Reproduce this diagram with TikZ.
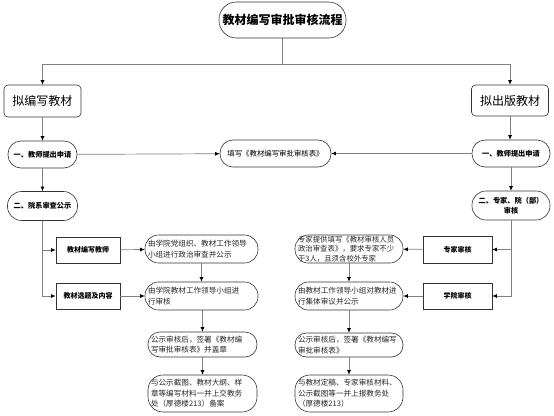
\documentclass[tikz,border=0pt]{standalone}
\usepackage{fontspec}
\setmainfont{Noto Sans CJK SC}
\usetikzlibrary{arrows.meta}
\begin{document}
\begin{tikzpicture}[x=1pt,y=-1pt,
 bx/.style={draw=black!80, line width=0.6pt, inner sep=1pt, align=center},
 stad/.style={bx, rounded corners=#1},
 rbox/.style={bx, rounded corners=4pt, font=\fontsize{12}{14}\selectfont},
 sq/.style={bx, font=\bfseries\fontsize{7}{9}\selectfont},
 hd/.style={bx, rounded corners=#1, font=\bfseries\fontsize{7.2}{10}\selectfont},
 stp/.style={bx, rounded corners=#1, align=left, inner xsep=3pt, text=black!85, font=\fontsize{7.6}{10.5}\selectfont},
 ln/.style={draw=black!50, line width=0.7pt},
 ar/.style={ln, -{Latex[length=4.5pt,width=4pt,color=black]}}
]
\useasboundingbox (0,0) rectangle (554,415);

% title
\node[stad=17.5pt, minimum width=127pt, minimum height=36pt, font=\bfseries\fontsize{12}{14}\selectfont] (title) at (282.5,20) {教材编写审批审核流程};

% top boxes
\node[rbox, minimum width=77pt, minimum height=32pt] (L0) at (42.5,101) {拟编写教材};
\node[rbox, minimum width=77pt, minimum height=31pt] (R0) at (510,100.5) {拟出版教材};

% step one
\node[hd=13pt, minimum width=69pt, minimum height=27pt] (L1) at (42.5,154.5) {一、教师提出申请};
\node[hd=13pt, minimum width=78pt, minimum height=27pt] (R1) at (511,153.5) {一、教师提出申请};
\node[stad=13pt, minimum width=111pt, minimum height=27pt, font=\fontsize{7.4}{10}\selectfont] (M) at (275.5,153.5) {填写《教材编写审批审核表》};

% step two
\node[hd=14pt, minimum width=70pt, minimum height=29pt] (L2) at (42.5,206) {二、院系审查公示};
\node[hd=14pt, minimum width=78pt, minimum height=29pt, text width=70pt] (R2) at (511,205.5) {二、专家、院（部）\\审核};

% left branch boxes
\node[sq, minimum width=64pt, minimum height=26pt] (LA) at (88,250) {教材编写教师};
\node[sq, minimum width=64pt, minimum height=26pt] (LB) at (88,296) {教材选题及内容};
% right branch boxes
\node[sq, minimum width=69pt, minimum height=27pt] (RA) at (457.5,249.5) {专家审核};
\node[sq, minimum width=69pt, minimum height=26pt] (RB) at (457.5,296) {学院审核};

% left steps
\node[stp=13.5pt, minimum width=113pt, minimum height=28pt, text width=107pt] (LS1) at (201.5,249) {由学院党组织、教材工作领导\\小组进行政治审查并公示};
\node[stp=13.5pt, minimum width=113pt, minimum height=28pt, text width=107pt] (LS2) at (201.5,296) {由学院教材工作领导小组进\\行审核};
\node[stp=12pt, minimum width=109pt, minimum height=25pt, text width=103pt] (LS3) at (202.5,344.5) {公示审核后，签署《教材编\\写审批审核表》并盖章};
\node[stp=15pt, minimum width=109pt, minimum height=37pt, text width=103pt] (LS4) at (202.5,393.5) {与公示截图、教材大纲、样\\章等编写材料一并上交教务\\处（厚德楼213）备案};

% right steps
\node[stp=13.5pt, minimum width=108pt, minimum height=28pt, text width=102pt, font=\fontsize{7.4}{9.5}\selectfont] (RS1) at (349,249) {专家提供填写《教材审核人员\\政治审查表》，要求专家不少\\于3人，且须含校外专家};
\node[stp=13.5pt, minimum width=108pt, minimum height=28pt, text width=102pt] (RS2) at (349,296) {由教材工作领导小组对教材进\\行集体审议并公示};
\node[stp=11.5pt, minimum width=108pt, minimum height=24pt, text width=102pt] (RS3) at (349,345) {公示审核后，签署《教材编写\\审批审核表》};
\node[stp=15pt, minimum width=108pt, minimum height=37pt, text width=102pt] (RS4) at (349,393.5) {与教材定稿、专家审核材料、\\公示截图等一并上报教务处\\（厚德楼213）};

% top connectors
\coordinate (jL) at (42.5,64);
\coordinate (jR) at (510,64);
\draw[ln] (title.south) -- (title.south |- jL);
\draw[ln] (jL) -- (jR);
\draw[ar] (jL) -- (L0.north);
\draw[ar] (jR) -- (R0.north);

\draw[ar] (L0) -- (L1);
\draw[ar] (R0.south) -- (R0.south |- R1.north);
\draw[ar] (L1) -- (L2);
\draw[ar] (R1) -- (R2);
\draw[ar] (L1) -- (M);
\draw[ar] (R1) -- (M);

% left branches
\draw[ar] (L2.south) |- (LA.west);
\draw[ar] (L2.south) |- (LB.west);
\draw[ar] (LA) -- (LS1);
\draw[ar] (LB) -- (LS2);
\draw[ar] (LS1) -- (LS2);
\draw[ar] (LS2.south -| LS3.north) -- (LS3.north);
\draw[ar] (LS3) -- (LS4);

% right branches
\draw[ar] (R2.south) |- (RA.east);
\draw[ar] (R2.south) |- (RB.east);
\draw[ar] (RA) -- (RS1);
\draw[ar] (RB) -- (RS2);
\draw[ar] (RS1) -- (RS2);
\draw[ar] (RS2) -- (RS3);
\draw[ar] (RS3) -- (RS4);
\end{tikzpicture}
\end{document}
